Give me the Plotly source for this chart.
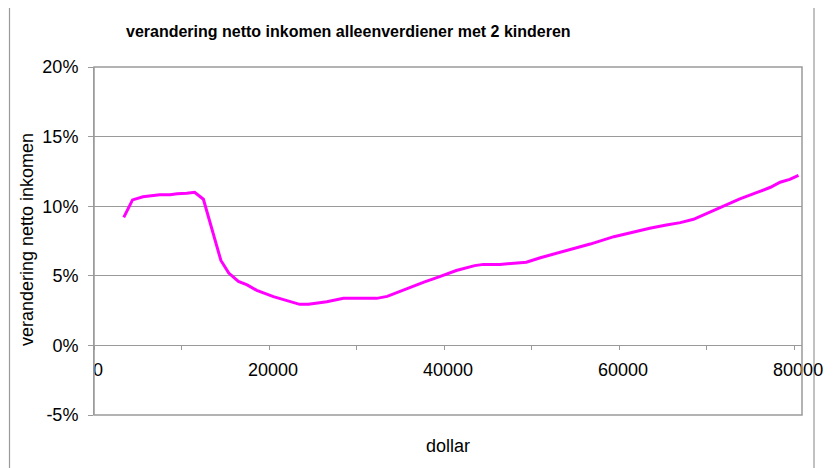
import plotly.graph_objects as go

# data
income = [3400, 4400, 5600, 7500, 8700, 9500, 10600, 11500, 12500, 13300, 14500, 15400,
          16500, 17500, 18600, 20500, 22000, 23500, 24500, 26600, 28500, 32300, 33500,
          35200, 36700, 37700, 39500, 41400, 43500, 44500, 46400, 47700, 49400, 51000,
          53600, 55200, 56700, 59400, 61300, 63500, 65400, 67000, 68500, 70000, 72300,
          73800, 75700, 77300, 78400, 79500, 80500]
change_pct = [9.2, 10.45, 10.68, 10.83, 10.83, 10.9, 10.93, 11.0, 10.5, 8.8, 6.1, 5.2,
              4.6, 4.35, 3.95, 3.5, 3.2, 2.95, 2.95, 3.14, 3.38, 3.38, 3.52,
              3.95, 4.3, 4.55, 4.94, 5.38, 5.73, 5.82, 5.82, 5.9, 5.97, 6.3,
              6.73, 7.03, 7.28, 7.81, 8.1, 8.41, 8.65, 8.82, 9.06, 9.49, 10.09,
              10.52, 10.97, 11.36, 11.72, 11.93, 12.22]

y_tickvals = [-5, 0, 5, 10, 15, 20]
y_ticktext = ["-5%", "0%", "5%", "10%", "15%", "20%"]
x_tickvals = [0, 20000, 40000, 60000, 80000]
x_ticktext = ["0", "20000", "40000", "60000", "80000"]

title_text = "verandering netto inkomen alleenverdiener met 2 kinderen"
x_title = "dollar"
y_title = "verandering netto inkomen"

FONT = "Arial, Liberation Sans, sans-serif"
GREY = "#9a9a9a"

# page body has an 8px offset; figure sized to fit the remaining window
OFF = 8
W, H = 837 - OFF, 468 - OFF
L, T = 94 - OFF, 67 - OFF
PW, PH = 708, 348


def px(x):
    return (x - 94) / PW


def py(y):
    return (415 - y) / PH


fig = go.Figure()
fig.add_trace(go.Scatter(x=income, y=change_pct, mode="lines",
                         line=dict(color="#FF00FF", width=3), showlegend=False))

fig.update_layout(
    width=W, height=H,
    margin=dict(l=L, r=W - L - PW, t=T, b=H - T - PH),
    paper_bgcolor="white", plot_bgcolor="white",
    font=dict(family=FONT, size=18, color="black"),
    xaxis=dict(range=[0, 80900], tickvals=x_tickvals, ticktext=x_ticktext,
               anchor="free", position=0.2, showgrid=False, zeroline=False,
               showline=True, linecolor=GREY, linewidth=1,
               ticks="outside", ticklen=4, tickcolor=GREY,
               minor=dict(dtick=10000, tick0=0, ticks="outside", ticklen=4, tickcolor=GREY),
               ticklabelshift=4, ticklabelstandoff=4,
               tickfont=dict(size=18), automargin=False),
    yaxis=dict(range=[-5, 20], tickvals=y_tickvals, ticktext=y_ticktext,
               showgrid=True, gridcolor=GREY, gridwidth=1, zeroline=False,
               showline=True, linecolor=GREY, linewidth=1,
               ticks="outside", ticklen=5, tickcolor=GREY,
               ticklabelstandoff=6,
               tickfont=dict(size=18), automargin=False),
    shapes=[
        dict(type="rect", xref="paper", yref="paper", x0=0, x1=1, y0=0, y1=1,
             line=dict(color=GREY, width=1.5)),
        dict(type="rect", xref="paper", yref="paper",
             x0=px(9.5), x1=px(814), y0=py(480), y1=py(4),
             line=dict(color=GREY, width=1.2), layer="below"),
    ],
    annotations=[
        dict(text="<b>" + title_text + "</b>", xref="paper", yref="paper",
             x=px(348), y=py(32), xanchor="center", yanchor="middle",
             showarrow=False, font=dict(size=16, family=FONT)),
        dict(text=x_title, xref="paper", yref="paper",
             x=px(448), y=py(446), xanchor="center", yanchor="middle",
             showarrow=False, font=dict(size=18, family=FONT)),
        dict(text=y_title, xref="paper", yref="paper", textangle=-90,
             x=px(27), y=py(240), xanchor="center", yanchor="middle",
             showarrow=False, font=dict(size=18, family=FONT)),
    ],
)

fig.write_html("out.html")
